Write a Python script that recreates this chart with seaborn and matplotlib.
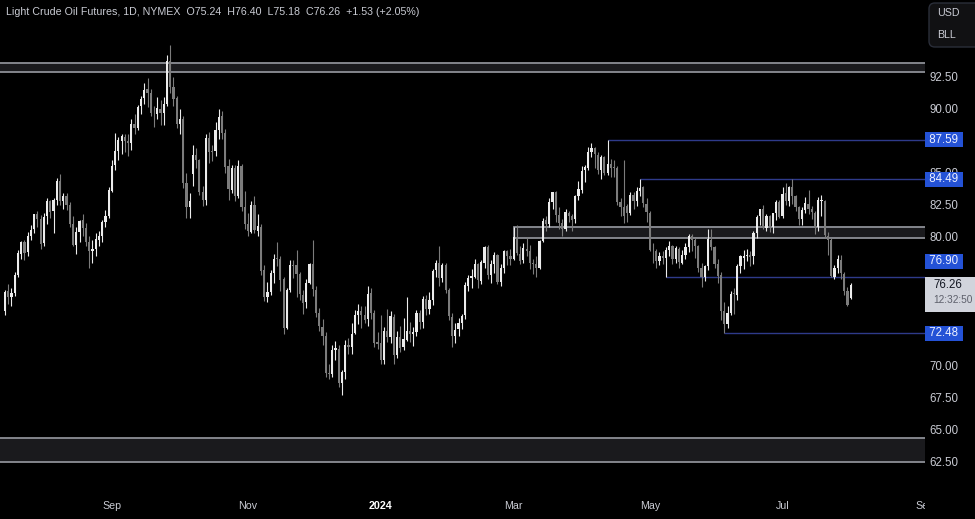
import numpy as np
import pandas as pd
import matplotlib
matplotlib.use("Agg")
import matplotlib.pyplot as plt
import matplotlib.transforms as mtransforms
from matplotlib.patches import Rectangle, FancyBboxPatch
import seaborn as sns

# daily bars, 18 Jul 2023 .. 31 Jul 2024, one row per month
opens = [
    74.2, 75.8, 75.3, 75.6, 77.0, 78.7, 79.6, 78.8, 80.1, 80.6,
    81.8, 81.4, 79.5, 81.6, 82.8, 82.0, 82.9, 84.4, 82.8, 83.2, 82.5, 81.0, 79.4, 80.4, 81.3, 80.7, 79.6, 78.9, 79.1, 79.8, 80.1, 81.2, 81.6,
    83.6, 85.6, 86.7, 87.5, 87.8, 87.5, 87.3, 88.8, 88.5, 90.2, 90.8, 91.5, 91.2, 89.7, 89.6, 90.0, 89.7, 90.4, 93.7, 91.7,
    90.8, 88.8, 89.2, 84.2, 82.3, 84.9, 86.4, 86.0, 83.5, 82.9, 87.7, 86.7, 86.7, 88.3, 89.4, 88.1, 85.5, 83.7, 85.4, 83.2, 85.5, 82.3,
    81.0, 80.4, 82.5, 80.5, 80.8, 77.4, 75.3, 75.7, 77.2, 78.4, 78.3, 76.7, 72.9, 75.9, 77.8, 77.8, 77.1, 75.5, 74.9, 76.4, 77.9,
    75.9, 74.1, 73.0, 72.3, 69.4, 69.3, 71.2, 71.3, 68.6, 69.5, 71.6, 71.4, 72.5, 73.9, 74.2, 73.9, 73.6, 75.6, 74.1, 71.8,
    71.7, 70.4, 72.7, 72.2, 73.8, 70.8, 72.2, 71.4, 72.0, 72.7, 72.4, 72.6, 74.1, 73.4, 75.2, 74.4, 75.1, 77.4, 78.0, 76.8, 77.8,
    75.9, 73.8, 72.3, 72.8, 73.3, 73.9, 76.2, 76.8, 76.9, 77.9, 76.6, 78.0, 79.2, 77.0, 77.9, 78.6, 76.5, 77.6, 78.9, 78.5,
    78.3, 80.0, 78.7, 78.2, 79.1, 78.9, 78.0, 77.9, 77.6, 79.7, 81.3, 81.0, 82.7, 83.5, 81.7, 81.1, 80.6, 81.9, 81.6, 81.4,
    83.2, 83.7, 85.2, 85.4, 86.6, 86.9, 86.4, 85.2, 86.2, 85.0, 85.7, 85.4, 85.4, 82.7, 82.3, 82.4, 81.9, 83.3, 82.8, 83.6, 83.9, 82.6,
    81.9, 79.0, 78.9, 78.1, 78.5, 78.4, 79.0, 79.3, 78.3, 79.1, 78.0, 78.6, 79.2, 80.1, 79.8, 79.3, 77.6, 76.9, 77.7, 79.8, 79.2, 77.9,
    77.0, 74.2, 73.2, 74.1, 75.6, 75.5, 77.7, 78.4, 78.5, 78.6, 78.5, 80.3, 81.6, 82.2, 80.7, 81.6, 80.8, 81.9, 82.7,
    81.6, 83.4, 82.8, 83.9, 83.2, 82.3, 81.4, 82.1, 82.6, 82.2, 81.9, 80.8, 82.8, 82.8, 80.1, 79.8, 76.9, 77.6, 78.2, 77.1, 75.8, 75.24,
]
highs = [
    75.9, 76.3, 76.0, 77.3, 79.0, 79.7, 79.8, 80.4, 80.9, 81.8,
    82.0, 81.7, 81.9, 83.0, 82.9, 83.0, 84.6, 84.9, 83.4, 83.4, 82.7, 81.6, 80.8, 81.3, 81.8, 81.1, 80.1, 79.8, 80.3, 80.5, 81.3, 82.1, 83.9,
    86.0, 88.1, 87.8, 88.0, 88.0, 88.0, 89.2, 89.6, 90.3, 91.0, 92.0, 92.4, 91.5, 90.2, 90.9, 90.7, 90.9, 94.2, 95.0, 92.5,
    91.0, 90.0, 89.4, 85.0, 83.4, 87.2, 86.9, 86.1, 84.0, 88.0, 88.2, 87.2, 89.0, 90.0, 89.8, 88.4, 86.1, 85.6, 85.6, 86.0, 85.7, 83.6,
    81.9, 82.8, 83.2, 81.8, 81.0, 77.8, 76.5, 77.4, 78.7, 79.6, 78.5, 76.9, 76.0, 78.2, 78.2, 79.0, 77.3, 75.9, 76.7, 78.0, 79.8,
    76.2, 74.5, 73.6, 72.6, 70.1, 71.6, 71.9, 71.6, 69.6, 72.0, 72.1, 73.3, 74.3, 74.8, 74.6, 74.6, 76.2, 76.0, 74.3, 72.6,
    73.9, 73.0, 74.4, 74.2, 74.0, 72.7, 73.1, 73.7, 75.3, 73.4, 73.0, 74.3, 74.3, 75.4, 75.5, 75.7, 77.5, 78.2, 79.3, 78.0, 78.0,
    76.0, 74.1, 73.3, 73.7, 74.0, 76.5, 77.0, 77.5, 78.3, 78.0, 78.2, 79.3, 79.4, 78.2, 78.8, 78.7, 77.9, 79.0, 79.0, 79.1,
    80.8, 80.9, 79.3, 79.5, 80.0, 79.4, 78.3, 78.5, 79.8, 81.5, 81.6, 83.0, 83.5, 83.6, 82.3, 81.4, 82.2, 82.0, 81.8, 83.3,
    84.4, 85.5, 85.6, 87.0, 87.3, 87.0, 86.6, 86.4, 86.3, 87.59, 86.1, 86.0, 85.5, 83.0, 86.0, 82.6, 83.5, 83.5, 83.9, 84.49, 84.0, 83.0,
    82.0, 79.5, 79.1, 78.8, 78.9, 79.2, 79.7, 79.4, 79.3, 79.2, 79.0, 79.5, 80.2, 80.2, 79.9, 79.4, 78.0, 77.8, 80.6, 80.6, 79.3, 78.3,
    77.3, 74.9, 74.6, 75.8, 76.0, 77.9, 78.6, 79.0, 79.1, 78.9, 80.5, 81.7, 82.2, 82.5, 81.8, 81.7, 81.9, 82.9, 82.9,
    83.9, 84.2, 84.0, 84.5, 83.3, 82.4, 82.3, 83.1, 83.7, 82.4, 82.0, 83.1, 83.3, 82.9, 80.4, 79.9, 77.8, 78.6, 78.6, 77.3, 76.1, 76.40,
]
lows = [
    73.9, 74.8, 74.6, 75.4, 76.9, 78.3, 78.2, 78.5, 79.8, 80.3,
    80.8, 79.1, 79.3, 81.0, 81.5, 80.3, 82.5, 82.5, 82.2, 82.1, 80.8, 79.3, 78.7, 79.6, 80.1, 79.3, 77.6, 78.0, 78.5, 79.3, 79.6, 80.8, 81.5,
    83.5, 85.2, 86.0, 86.5, 86.6, 86.3, 86.8, 88.0, 88.3, 89.6, 90.4, 90.1, 89.4, 88.6, 89.2, 88.7, 88.7, 90.2, 91.2, 90.2,
    88.5, 88.0, 83.8, 81.5, 81.5, 84.0, 85.4, 83.3, 82.4, 82.5, 85.8, 85.9, 86.3, 87.6, 87.6, 85.0, 82.9, 83.4, 82.8, 83.0, 82.0, 80.6,
    80.1, 80.3, 80.3, 80.1, 77.0, 75.0, 74.9, 75.5, 76.4, 77.7, 75.8, 72.4, 72.8, 75.7, 76.8, 75.3, 75.1, 74.0, 74.5, 76.3, 75.4,
    73.8, 72.7, 71.6, 69.1, 68.9, 69.1, 70.4, 68.3, 67.7, 68.9, 70.9, 70.9, 72.4, 73.2, 72.9, 73.3, 73.1, 73.6, 71.4, 71.3,
    70.1, 70.1, 71.8, 71.7, 70.1, 70.6, 71.0, 71.2, 71.9, 71.8, 71.5, 72.3, 72.8, 72.9, 73.9, 74.0, 74.7, 76.9, 76.2, 76.5, 75.6,
    73.5, 71.4, 71.7, 72.3, 72.8, 73.6, 75.8, 76.0, 76.8, 76.0, 76.3, 77.6, 76.7, 76.4, 77.2, 76.3, 76.2, 77.2, 77.8, 77.8,
    78.2, 78.6, 77.9, 78.0, 78.5, 77.5, 77.1, 76.9, 77.5, 79.6, 80.5, 80.8, 82.2, 81.2, 80.6, 80.1, 80.5, 81.2, 80.5, 81.1,
    82.9, 83.4, 84.3, 85.2, 86.2, 85.4, 84.9, 84.5, 84.8, 84.8, 84.7, 84.7, 82.5, 81.6, 81.1, 81.2, 81.7, 82.2, 82.4, 83.2, 82.3, 81.2,
    78.9, 78.0, 77.6, 77.8, 77.9, 76.9, 78.5, 77.9, 78.0, 77.6, 77.9, 78.3, 78.8, 78.9, 78.4, 77.3, 76.1, 76.6, 77.4, 79.0, 77.6, 76.4,
    73.5, 72.48, 72.9, 73.9, 74.0, 75.1, 77.2, 77.5, 78.1, 77.7, 77.9, 79.9, 80.9, 80.6, 80.5, 80.4, 80.3, 81.3, 81.5,
    81.5, 82.5, 82.4, 82.6, 82.0, 80.9, 80.9, 81.9, 81.8, 81.4, 80.2, 80.5, 81.6, 79.9, 78.6, 76.9, 76.7, 77.2, 76.7, 75.5, 74.6, 75.18,
]
closes = [
    75.75, 75.35, 75.63, 77.07, 78.74, 79.63, 78.78, 80.09, 80.58, 81.80,
    81.37, 79.49, 81.55, 82.82, 81.94, 82.92, 84.40, 82.82, 83.19, 82.51, 80.99, 79.38, 80.39, 81.25, 80.72, 79.64, 78.89, 79.05, 79.83, 80.10, 81.16, 81.63, 83.63,
    85.55, 86.69, 87.54, 87.87, 87.51, 87.29, 88.84, 88.52, 90.16, 90.77, 91.48, 91.20, 89.66, 89.63, 90.03, 89.68, 90.39, 93.68, 91.71, 90.79,
    88.82, 89.23, 84.22, 82.31, 82.79, 86.38, 85.97, 83.49, 82.91, 87.69, 86.66, 86.66, 88.32, 89.37, 88.08, 85.49, 83.74, 85.39, 83.21, 85.54, 82.31, 81.02,
    80.44, 82.46, 80.51, 80.82, 77.37, 75.33, 75.74, 77.17, 78.26, 78.26, 76.66, 72.90, 75.89, 77.83, 77.77, 77.10, 75.54, 74.86, 76.41, 77.86, 75.96,
    74.07, 73.04, 72.32, 69.38, 69.34, 71.23, 71.32, 68.61, 69.47, 71.58, 71.43, 72.47, 73.94, 74.22, 73.89, 73.56, 75.57, 74.11, 71.77, 71.65,
    70.38, 72.70, 72.19, 73.81, 70.77, 72.24, 71.37, 72.02, 72.68, 72.40, 72.56, 74.08, 73.41, 75.19, 74.37, 75.09, 77.36, 78.01, 76.78, 77.82, 75.85,
    73.82, 72.28, 72.78, 73.31, 73.86, 76.22, 76.84, 76.92, 77.87, 76.64, 78.03, 79.19, 77.04, 77.91, 78.61, 76.49, 77.58, 78.87, 78.54, 78.26,
    79.97, 78.74, 78.15, 79.13, 78.93, 78.01, 77.93, 77.56, 79.72, 81.26, 81.04, 82.72, 83.47, 81.68, 81.07, 80.63, 81.95, 81.62, 81.35, 83.17,
    83.71, 85.15, 85.43, 86.59, 86.91, 86.43, 85.23, 86.21, 85.02, 85.66, 85.41, 85.36, 82.69, 82.30, 81.60, 81.90, 83.30, 82.80, 83.57, 83.85, 82.63, 81.93,
    79.00, 78.95, 78.11, 78.48, 78.38, 78.99, 79.26, 78.26, 79.12, 78.02, 78.63, 79.23, 80.06, 79.80, 79.26, 77.57, 76.87, 77.72, 79.83, 79.23, 77.91, 76.99,
    74.22, 73.25, 74.07, 75.55, 75.53, 77.74, 78.50, 78.50, 78.62, 78.45, 80.33, 81.57, 82.17, 80.73, 81.63, 80.83, 81.90, 82.74, 81.54,
    83.38, 82.81, 83.88, 83.16, 82.33, 81.41, 82.10, 82.62, 82.21, 81.91, 80.76, 82.85, 82.82, 80.13, 79.78, 76.96, 77.59, 78.28, 77.16, 75.81, 74.73, 76.26,
]

holidays = ["2023-09-04", "2023-11-23", "2023-12-25", "2024-01-01", "2024-01-15",
            "2024-02-19", "2024-03-29", "2024-05-27", "2024-06-19", "2024-07-04", "2024-09-02"]

tick_dates = ["2023-09-01", "2023-11-01", "2024-01-02", "2024-03-01", "2024-05-01", "2024-07-01"]
tick_labels = ["Sep", "Nov", "2024", "Mar", "May", "Jul"]
future_tick_date = "2024-09-03"
future_tick_label = "Sep"

# grey supply/demand zones (None = from the left edge)
zone_low = [92.84, 79.92, 62.45]
zone_high = [93.59, 80.80, 64.35]
zone_start = [None, "2024-03-01", None]

# blue levels and the bar they start from
levels = [87.59, 84.49, 76.90, 72.48]
level_start = ["2024-04-12", "2024-04-26", "2024-05-08", "2024-06-04"]

last_price = 76.26
countdown = "12:32:50"
title = "Light Crude Oil Futures, 1D, NYMEX  O75.24  H76.40  L75.18  C76.26  +1.53 (+2.05%)"

# scale labels that are not hidden behind a price tag
price_ticks = [62.5, 65.0, 67.5, 70.0, 80.0, 82.5, 85.0, 90.0, 92.5]

# ---- styling
BG = "#000000"
TXT = "#c9cbd3"
UP = "#ececec"
DOWN = "#7c7c7c"
ZONE_FILL = "#1a1a1d"
ZONE_EDGE = "#8d8f96"
LEVEL = "#2e3a8a"
TAG = "#2452d6"

sns.set_theme(style="dark", rc={
    "axes.facecolor": BG, "figure.facecolor": BG, "axes.edgecolor": BG,
    "axes.grid": False, "text.color": TXT, "xtick.color": TXT, "ytick.color": TXT,
})
plt.rcParams["font.family"] = ["Liberation Sans", "DejaVu Sans"]

dates = pd.bdate_range("2023-07-18", "2024-09-30", freq="C", holidays=holidays)
df = pd.DataFrame({"open": opens, "high": highs, "low": lows, "close": closes})
df["date"] = dates[:len(df)]
df["x"] = np.arange(len(df))


def pos(d):
    return dates.get_loc(pd.Timestamp(d))


fig = plt.figure(figsize=(9.75, 5.19), dpi=100)
ax = fig.add_axes([0, 29 / 519, 925 / 975, 490 / 519])
for s in ax.spines.values():
    s.set_visible(False)

x_left, x_right = -1.54, 283.95
y_lo, y_hi = 60.28, 98.47
ax.set_xlim(x_left, x_right)
ax.set_ylim(y_lo, y_hi)
per_px = (y_hi - y_lo) / 490  # price units per pixel on the scale

# zones
for lo, hi, start in zip(zone_low, zone_high, zone_start):
    x0 = x_left - 2 if start is None else pos(start)
    ax.add_patch(Rectangle((x0, lo), x_right + 5 - x0, hi - lo, fc=ZONE_FILL,
                           ec=ZONE_EDGE, lw=1.3, zorder=1))

# levels
ax.hlines(levels, [pos(d) for d in level_start], x_right + 5, colors=LEVEL, lw=1.0, zorder=2)

# candles
up = df["close"] >= df["open"]
colors = np.where(up, UP, DOWN)
ax.vlines(df["x"], df["low"], df["high"], colors=colors, lw=0.8, zorder=3)
body_lo = df[["open", "close"]].min(axis=1)
body_h = (df["close"] - df["open"]).abs().clip(lower=0.06)
ax.bar(df["x"], body_h, bottom=body_lo, width=0.68, color=colors, linewidth=0, zorder=4)

# axes ticks
ax.yaxis.tick_right()
ax.set_yticks(price_ticks)
ax.set_yticklabels([f"{v:.2f}" for v in price_ticks])
ax.tick_params(axis="y", length=0, pad=3.5, labelsize=8.3, colors=TXT)
ax.set_xticks([pos(d) for d in tick_dates])
ax.set_xticklabels(tick_labels)
ax.tick_params(axis="x", length=0, pad=8, labelsize=7.7, colors=TXT)
ax.get_xticklabels()[2].set_fontweight("bold")
ax.get_xticklabels()[2].set_color("#ffffff")

clip = mtransforms.TransformedBbox(mtransforms.Bbox([[0, 0], [925 / 975, 1]]), fig.transFigure)
t = ax.annotate(future_tick_label, xy=(pos(future_tick_date), 0),
                xycoords=("data", "axes fraction"), xytext=(0, -8), textcoords="offset points",
                ha="center", va="top", fontsize=7.7, color=TXT, annotation_clip=False)
t.set_clip_box(clip)
t.set_clip_on(True)

# price tags on the right scale
blend = mtransforms.blended_transform_factory(ax.transAxes, ax.transData)
nudge = {76.90: 11}
for lv in levels:
    ax.annotate(f" {lv:.2f} ", xy=(1, lv), xycoords=blend, xytext=(1, nudge.get(lv, 0)),
                textcoords="offset points", ha="left", va="center", fontsize=8.3,
                color="#eef1ff", annotation_clip=False, zorder=6,
                bbox=dict(boxstyle="square,pad=0.12", fc=TAG, ec="none"))

# last price tag with bar countdown
ax.add_patch(Rectangle((1, last_price - 27 * per_px), 52 / 925, 35 * per_px, transform=blend,
                       fc="#d1d4dc", ec="none", clip_on=False, zorder=6))
ax.annotate(f"{last_price:.2f}", xy=(1, last_price), xycoords=blend, xytext=(6, 0),
            textcoords="offset points", ha="left", va="center", fontsize=8.3,
            color="#131722", annotation_clip=False, zorder=7)
ax.annotate(countdown, xy=(1, last_price), xycoords=blend, xytext=(6, -10.5),
            textcoords="offset points", ha="left", va="center", fontsize=7.3,
            color="#5d606b", annotation_clip=False, zorder=7)

# currency box, top right
fig.add_artist(FancyBboxPatch((929 / 975, 1 - 47 / 519), 52 / 975, 44 / 519,
                              boxstyle="round,pad=0,rounding_size=0.006",
                              mutation_aspect=975 / 519, transform=fig.transFigure,
                              fc="#111113", ec="#2a2e39", lw=1, zorder=5))
fig.text(937 / 975, 1 - 13 / 519, "USD", fontsize=7.7, color=TXT, va="center", zorder=6)
fig.text(937 / 975, 1 - 35 / 519, "BLL", fontsize=7.7, color=TXT, va="center", zorder=6)

fig.text(6 / 975, 1 - 12 / 519, title, fontsize=7.7, color=TXT, va="center", ha="left")

fig.savefig("out.png", dpi=100, facecolor=BG)
